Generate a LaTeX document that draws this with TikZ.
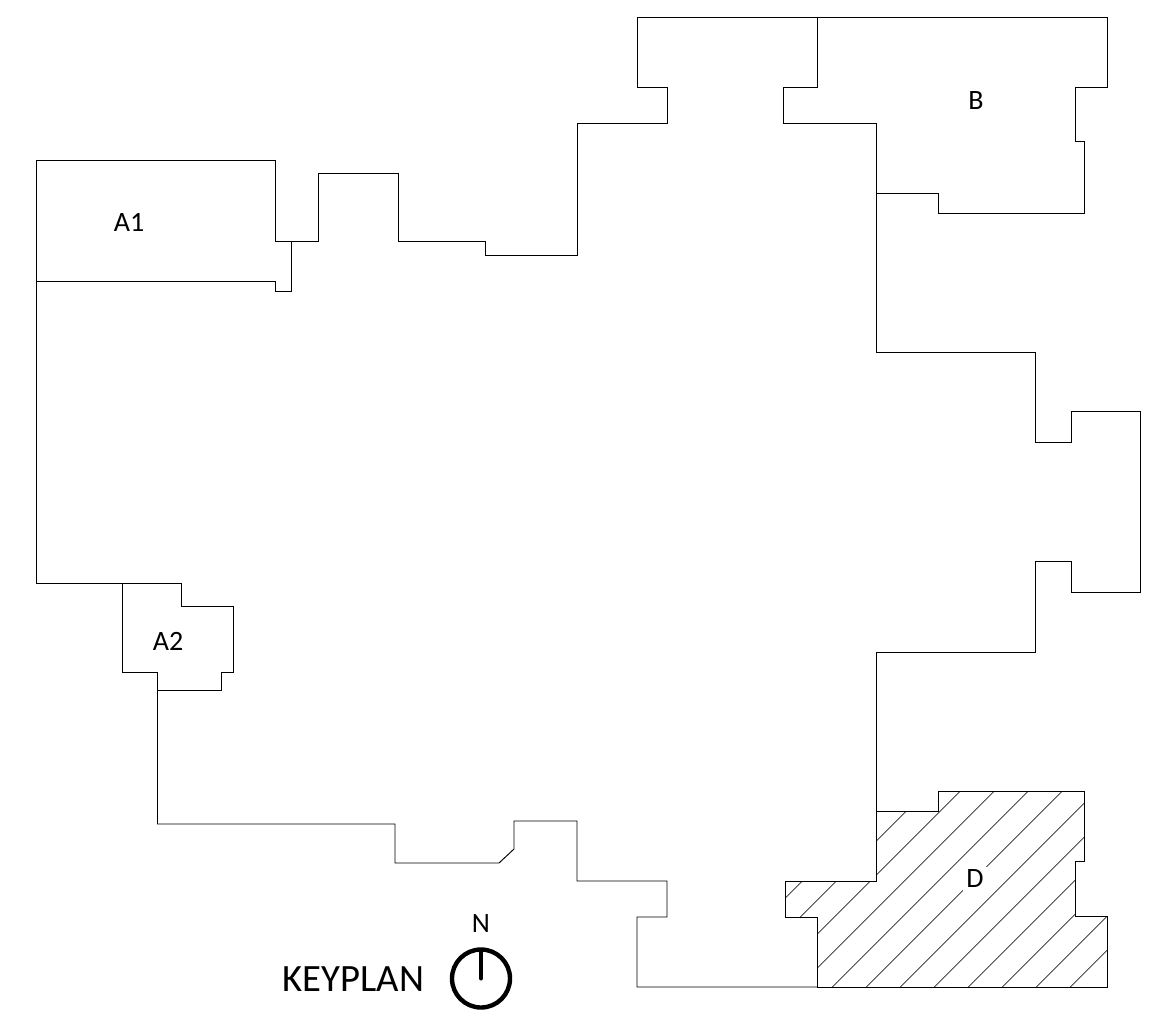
\documentclass[tikz,border=0pt]{standalone}
\usepackage{fontspec}
\setmainfont{Carlito}
\newcommand{\planfont}[1]{\fontsize{#1}{#1}\selectfont}
\tikzset{
  plan/.style={draw=black, line width=0.72pt, line join=miter, line cap=butt},
  hatchline/.style={draw=black!85, line width=0.6pt},
  roomlabel/.style={inner sep=1pt, font=\planfont{21}},
  dlabel/.style={inner sep=2.5pt, fill=white, font=\planfont{21}},
}
\begin{document}
\begin{tikzpicture}[x=0.75pt,y=-0.75pt]
\path[use as bounding box, fill=white] (0,0) rectangle (1169,1010);
% hatching of zone D
\begin{scope}
\clip (876.5,811) -- (938,811) -- (938,791) -- (1084,791) -- (1084,861) -- (1075,861) -- (1075,916) -- (1107,916) -- (1107,987) -- (817,987) -- (817,917) -- (785,917) -- (785,881) -- (876.5,881) -- cycle;
\foreach \k in {-2,...,9} {
  \pgfmathsetmacro{\s}{1751.3+34*\k}
  \draw[hatchline] (\s-1000,1000) -- (\s-700,700);
}
\end{scope}
% main outline
\draw[plan] (36,160) -- (275.5,160) -- (275.5,241) -- (318.5,241) -- (318.5,173) -- (398,173) -- (398,241) -- (485,241) -- (485,255) -- (577,255) -- (577,123) -- (667,123) -- (667,87) -- (637,87) -- (637,17) -- (1107,17) -- (1107,87) -- (1075,87) -- (1075,141) -- (1084,141) -- (1084,213) -- (938,213) -- (938,193) -- (876.5,193);
\draw[plan] (817,17) -- (817,87) -- (783,87) -- (783,123) -- (876.5,123) -- (876.5,352) -- (1035,352) -- (1035,442) -- (1071,442) -- (1071,411) -- (1140,411) -- (1140,592) -- (1071,592) -- (1071,561) -- (1035,561) -- (1035,652) -- (876.5,652) -- (876.5,881);
% zone D outline
\draw[plan] (876.5,811) -- (938,811) -- (938,791) -- (1084,791) -- (1084,861) -- (1075,861) -- (1075,916) -- (1107,916) -- (1107,987) -- (817,987) -- (817,917) -- (785,917) -- (785,881) -- (876.5,881);
% south edge
\draw[plan] (817,987) -- (637,987) -- (637,917) -- (667,917) -- (667,881) -- (577,881) -- (577,821) -- (514,821) -- (514,849) -- (499,863) -- (395,863) -- (395,824) -- (157.5,824) -- (157.5,672.5) -- (122.5,672.5) -- (122.5,583);
% west edge and A1 / A2
\draw[plan] (36,160) -- (36,583) -- (181.5,583) -- (181.5,606) -- (233.5,606) -- (233.5,672.5) -- (221.5,672.5) -- (221.5,690) -- (157.5,690);
\draw[plan] (36,281) -- (275.5,281) -- (275.5,291) -- (291,291) -- (291,241);
% labels
\node[roomlabel] (a1) at (129,222) {A1};
\node[roomlabel] (b) at (976,101) {B};
\node[roomlabel] (a2) at (168,641) {A2};
\node[dlabel] (d) at (975,879) {D};
\node[inner sep=0pt, font=\planfont{29}] (keyplan) at (353.5,979) {KEYPLAN};
\node[inner sep=0pt, font=\planfont{21}] (north) at (481,924) {N};
% north symbol
\node[circle, draw=black, line width=3.3pt, minimum size=43.5pt, inner sep=0pt] (compass) at (481,978.5) {};
\draw[line width=3pt, line cap=round, shorten <=2pt] (compass.north) -- (compass.center);
\end{tikzpicture}
\end{document}
